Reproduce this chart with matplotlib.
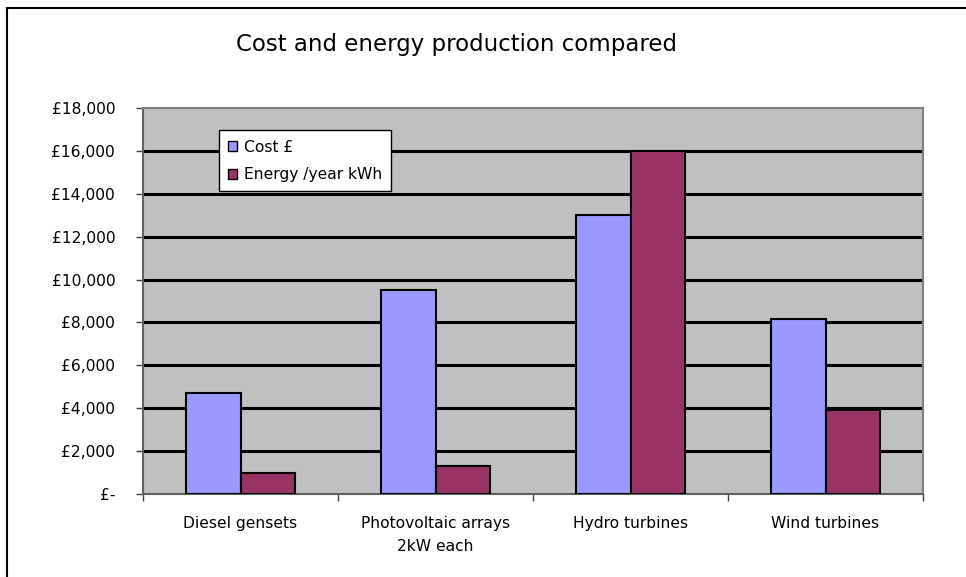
import matplotlib
matplotlib.use('Agg')
import matplotlib.pyplot as plt
from matplotlib.lines import Line2D
from matplotlib.patches import Patch
import numpy as np

categories = ['Diesel gensets', 'Photovoltaic arrays\n2kW each', 'Hydro turbines', 'Wind turbines']
cost = [4700, 9500, 13000, 8150]
energy = [1000, 1300, 16000, 3900]
y_ticks = [0, 2000, 4000, 6000, 8000, 10000, 12000, 14000, 16000, 18000]
y_labels = ['£-', '£2,000', '£4,000', '£6,000', '£8,000', '£10,000',
            '£12,000', '£14,000', '£16,000', '£18,000']

cost_color = '#9999FF'
energy_color = '#993366'

fig = plt.figure(figsize=(9.66, 5.77), dpi=100)
ax = fig.add_axes([143/966, 1 - 494/577, 780/966, 386/577])
ax.set_facecolor('#C0C0C0')

x = np.arange(len(categories))
w = 0.282
ax.bar(x - w/2, cost, w, color=cost_color, edgecolor='black', linewidth=1.5, zorder=3)
ax.bar(x + w/2, energy, w, color=energy_color, edgecolor='black', linewidth=1.5, zorder=3)

# gridlines (not at the top edge)
for v in y_ticks[1:-1]:
    ax.axhline(v, color='black', linewidth=2.2, zorder=1)

ax.set_ylim(0, 18000)
ax.set_xlim(-0.5, 3.5)
ax.set_yticks(y_ticks)
ax.set_yticklabels(y_labels, fontsize=11.2)
ax.tick_params(axis='y', length=5, width=1, color='#404040', pad=15)

# category boundaries as ticks, labels at centres
ax.set_xticks([-0.5, 0.5, 1.5, 2.5, 3.5])
ax.set_xticklabels([])
ax.set_xticks(x, minor=True)
ax.set_xticklabels(categories, minor=True, fontsize=11.2, linespacing=1.65)
ax.tick_params(axis='x', which='minor', length=0, pad=16)
ax.tick_params(axis='x', which='major', length=5, width=1, color='#404040')

for s in ['top', 'right']:
    ax.spines[s].set_color('#808080')
    ax.spines[s].set_linewidth(1.5)
for s in ['left', 'bottom']:
    ax.spines[s].set_color('#606060')
    ax.spines[s].set_linewidth(1.5)

handles = [Patch(facecolor=cost_color, edgecolor='black', linewidth=1),
           Patch(facecolor=energy_color, edgecolor='black', linewidth=1)]
leg = ax.legend(handles, ['Cost £', 'Energy /year kWh'], loc='upper left',
                bbox_to_anchor=(0.097, 0.942), fontsize=11.2, frameon=True,
                fancybox=False, handlelength=0.6, handleheight=0.6,
                handletextpad=0.4, borderpad=0.6, labelspacing=0.8,
                borderaxespad=0)
leg.get_frame().set_edgecolor('black')
leg.get_frame().set_linewidth(1)
leg.get_frame().set_facecolor('white')
leg.get_frame().set_alpha(1)
leg.set_zorder(5)

fig.text(457/966, 1 - 45/577, 'Cost and energy production compared',
         fontsize=16.5, ha='center', va='center')

# outer chart frame
fig.add_artist(Line2D([7/966, 7/966], [0, 1 - 8/577], color='black', linewidth=1.5))
fig.add_artist(Line2D([7/966, 1], [1 - 8/577, 1 - 8/577], color='black', linewidth=1.5))

fig.savefig('out.png', dpi=100)
